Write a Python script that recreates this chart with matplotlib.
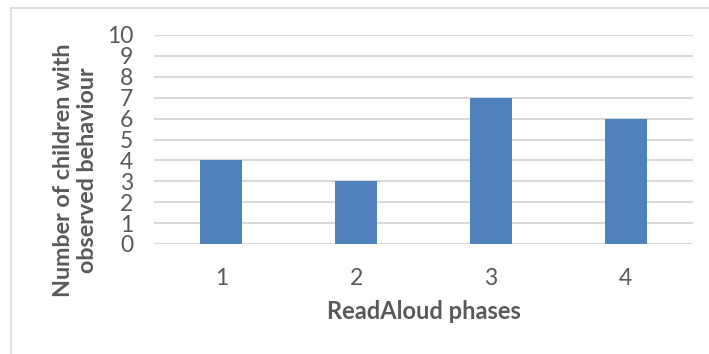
import matplotlib.pyplot as plt
from matplotlib.lines import Line2D

# --- Data ---
phases = ["1", "2", "3", "4"]
children = [4, 3, 7, 6]
y_ticks = list(range(0, 11))

BAR_COLOR = "#4F81BD"
GRID_COLOR = "#D9D9D9"
TEXT_COLOR = "#595959"

plt.rcParams["font.family"] = ["Lato", "DejaVu Sans"]

fig = plt.figure(figsize=(7.09, 3.54), dpi=100)
W, H = 709, 354
ax = fig.add_axes([154 / W, 1 - 244 / H, (693 - 154) / W, (244 - 35) / H])

x = range(len(phases))
ax.bar(x, children, width=0.31, color=BAR_COLOR, zorder=3)

ax.set_xlim(-0.5, len(phases) - 0.5)
ax.set_ylim(0, 10)
ax.set_yticks(y_ticks)
ax.set_xticks(list(x))
ax.set_xticklabels(phases)
ax.yaxis.grid(True, color=GRID_COLOR, linewidth=1.5, zorder=0)
ax.set_axisbelow(True)
for s in ax.spines.values():
    s.set_visible(False)
ax.tick_params(axis="both", length=0, labelsize=16.5, labelcolor=TEXT_COLOR)
ax.tick_params(axis="y", pad=15)
ax.tick_params(axis="x", pad=17)

ax.set_ylabel("Number of children with\nobserved behaviour", fontsize=16.8,
              fontweight="bold", color=TEXT_COLOR, linespacing=1.18)
ax.yaxis.set_label_coords(-0.103, 0.355)
ax.set_xlabel("ReadAloud phases", fontsize=17, fontweight="bold",
              color=TEXT_COLOR, labelpad=8)

# chart area border (only left and top visible in the crop)
fig.add_artist(Line2D([10.5 / W, 10.5 / W], [0, 1 - 8 / H],
                      color=GRID_COLOR, linewidth=1.2, transform=fig.transFigure))
fig.add_artist(Line2D([10.5 / W, 1], [1 - 8 / H, 1 - 8 / H],
                      color=GRID_COLOR, linewidth=1.2, transform=fig.transFigure))

fig.savefig("out.png", dpi=100)
